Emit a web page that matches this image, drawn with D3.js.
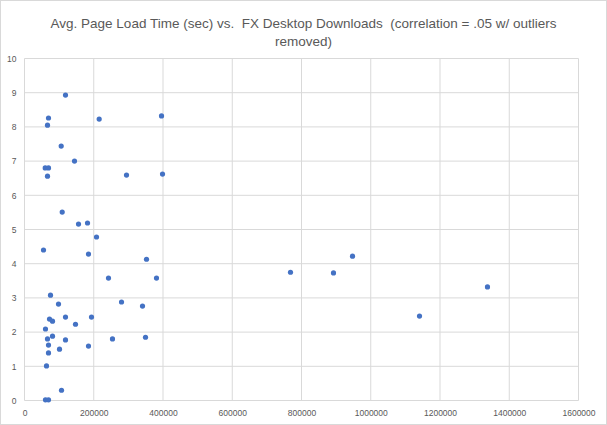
<!DOCTYPE html>
<html>
<head>
<meta charset="utf-8">
<script src="https://d3js.org/d3.v7.min.js"></script>
<style>
  body { margin: 0; background: #fff; }
  svg { display: block; font-family: "Liberation Sans", Arial, sans-serif; }
  .grid line { stroke: #d9d9d9; stroke-width: 1; }
  .tick text { fill: #595959; }
</style>
</head>
<body>
<script>
// title lines
var titleLines = ["Avg. Page Load Time (sec) vs.  FX Desktop Downloads  (correlation = .05 w/ outliers", "removed)"];

// FX desktop downloads (x) and avg page load time in sec (y)
var downloads = [118400, 69300, 66400, 215700, 395700, 106000, 144400, 59800, 69300, 66400,
                 294600, 398600, 108900, 156000, 182000, 208000, 54900, 184800, 352400, 242600,
                 381200, 75100, 98200, 280200, 340800, 72200, 80900, 118400, 193500, 147300,
                 60600, 66400, 80900, 118400, 254100, 349500, 69300, 184800, 69300, 101100,
                 63500, 106900, 60600, 69300, 768200, 892400, 947300, 1140800, 1337100];
var loadTime = [8.93, 8.26, 8.05, 8.23, 8.32, 7.44, 7.00, 6.80, 6.80, 6.56,
                6.59, 6.62, 5.51, 5.16, 5.19, 4.78, 4.40, 4.28, 4.13, 3.58,
                3.58, 3.08, 2.82, 2.88, 2.76, 2.38, 2.32, 2.44, 2.44, 2.23,
                2.09, 1.80, 1.88, 1.77, 1.80, 1.85, 1.62, 1.59, 1.39, 1.50,
                1.01, 0.30, 0.02, 0.02, 3.75, 3.73, 4.22, 2.47, 3.32];

var xTicks = [0, 200000, 400000, 600000, 800000, 1000000, 1200000, 1400000, 1600000];
var yTicks = [0, 1, 2, 3, 4, 5, 6, 7, 8, 9, 10];

var W = 607, H = 425;
var margin = {top: 58.5, right: 28.5, bottom: 24.5, left: 24.5},
    width = W - margin.left - margin.right,
    height = H - margin.top - margin.bottom;

var svg = d3.select("body").append("svg")
    .attr("width", W)
    .attr("height", H);

// chart area border
svg.append("rect")
    .attr("x", 0.5).attr("y", 0.5)
    .attr("width", W - 1).attr("height", H - 1)
    .attr("fill", "#fff")
    .attr("stroke", "#d9d9d9");

svg.append("text")
    .attr("x", W / 2)
    .attr("text-anchor", "middle")
    .attr("fill", "#595959")
    .style("font-size", "13.5px")
    .style("white-space", "pre")
    .selectAll("tspan")
    .data(titleLines)
    .enter().append("tspan")
    .attr("x", W / 2)
    .attr("y", function(d, i) { return 28 + i * 18; })
    .text(function(d) { return d; });

var g = svg.append("g")
    .attr("transform", "translate(" + margin.left + "," + margin.top + ")");

var x = d3.scaleLinear().domain([0, 1600000]).range([0, width]);
var y = d3.scaleLinear().domain([0, 10]).range([height, 0]);

// gridlines
g.append("g")
    .attr("class", "grid")
    .selectAll("line.h")
    .data(yTicks)
    .enter().append("line")
    .attr("x1", 0).attr("x2", width)
    .attr("y1", function(d) { return y(d); })
    .attr("y2", function(d) { return y(d); });

g.append("g")
    .attr("class", "grid")
    .selectAll("line.v")
    .data(xTicks)
    .enter().append("line")
    .attr("y1", 0).attr("y2", height)
    .attr("x1", function(d) { return x(d); })
    .attr("x2", function(d) { return x(d); });

var xAxis = g.append("g")
    .attr("transform", "translate(0," + height + ")")
    .call(d3.axisBottom(x).tickValues(xTicks).tickFormat(d3.format("d")).tickSize(0).tickPadding(9));

var yAxis = g.append("g")
    .call(d3.axisLeft(y).tickValues(yTicks).tickSize(0).tickPadding(8));

[xAxis, yAxis].forEach(function(a) {
  a.select(".domain").remove();
  a.selectAll("text").style("font-size", "8.5px").attr("fill", "#595959");
});

g.selectAll(".dot")
    .data(downloads)
    .enter().append("circle")
    .attr("class", "dot")
    .attr("cx", function(d) { return x(d); })
    .attr("cy", function(d, i) { return y(loadTime[i]); })
    .attr("r", 2.6)
    .attr("fill", "#4472c4");
</script>
</body>
</html>
